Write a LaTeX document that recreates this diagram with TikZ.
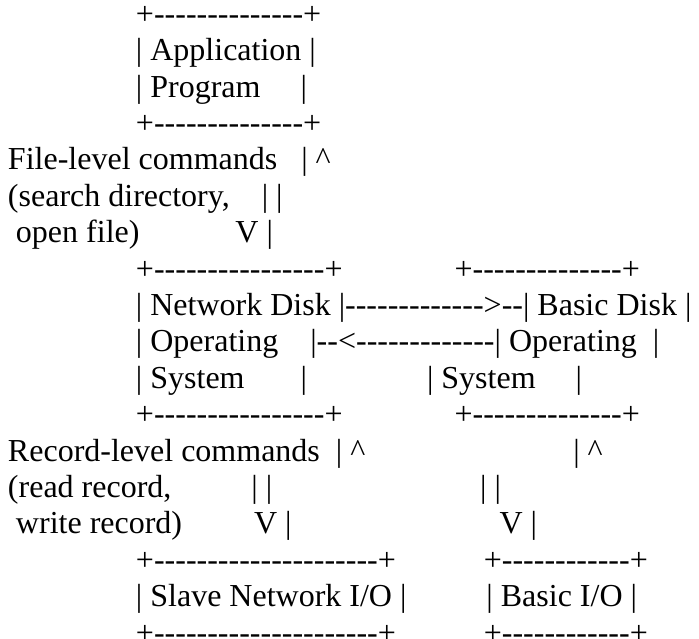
\documentclass[tikz,border=0pt]{standalone}
\usepackage{fontspec}
\setmainfont{Liberation Serif}[Ligatures=NoCommon]
\newcommand{\Sp}[1]{\hspace*{#1\fontdimen2\font}}
\newcommand{\Dsh}[1]{\foreach \dn in {1,...,#1}{-\kern0pt}}
\newcommand{\Up}{\textasciicircum}
\tikzset{ln/.style={anchor=base west, inner sep=0pt, outer sep=0pt,
  font=\fontsize{32pt}{36.4pt}\selectfont, text=black}}
\begin{document}
\begin{tikzpicture}[x=1pt,y=-1pt]
\fill[white] (0,0) rectangle (699,638);
\useasboundingbox (0,0) rectangle (699,638);
\node[ln] (l1)  at (8, 24.3) {\Sp{16}+\Dsh{14}+};
\node[ln] (l2)  at (8, 60.7) {\Sp{16}| Application |};
\node[ln] (l3)  at (8, 97.1) {\Sp{16}| Program\Sp{5}|};
\node[ln] (l4)  at (8,133.5) {\Sp{16}+\Dsh{14}+};
\node[ln] (l5)  at (8,169.9) {File-level commands\Sp{3}| \Up};
\node[ln] (l6)  at (8,206.3) {(search directory,\Sp{4}| |};
\node[ln] (l7)  at (8,242.7) {\Sp{1}open file)\Sp{12}V |};
\node[ln] (l8)  at (8,279.1) {\Sp{16}+\Dsh{16}+\Sp{14}+\Dsh{14}+};
\node[ln] (l9)  at (8,315.5) {\Sp{16}| Network Disk |\Dsh{13}>\Dsh{2}| Basic Disk |};
\node[ln] (l10) at (8,351.9) {\Sp{16}| Operating\Sp{4}|\Dsh{2}<\Dsh{13}| Operating\Sp{2}|};
\node[ln] (l11) at (8,388.3) {\Sp{16}| System\Sp{7}|\Sp{15}| System\Sp{5}|};
\node[ln] (l12) at (8,424.7) {\Sp{16}+\Dsh{16}+\Sp{14}+\Dsh{14}+};
\node[ln] (l13) at (8,461.1) {Record-level commands\Sp{2}| \Up\Sp{26}| \Up};
\node[ln] (l14) at (8,497.5) {(read record,\Sp{10}| |\Sp{26}| |};
\node[ln] (l15) at (8,533.9) {\Sp{1}write record)\Sp{9}V |\Sp{26}V |};
\node[ln] (l16) at (8,570.3) {\Sp{16}+\Dsh{21}+\Sp{11}+\Dsh{12}+};
\node[ln] (l17) at (8,606.7) {\Sp{16}| Slave Network I/O |\Sp{10}| Basic I/O |};
\node[ln] (l18) at (8,643.1) {\Sp{16}+\Dsh{21}+\Sp{11}+\Dsh{12}+};
\end{tikzpicture}
\end{document}
